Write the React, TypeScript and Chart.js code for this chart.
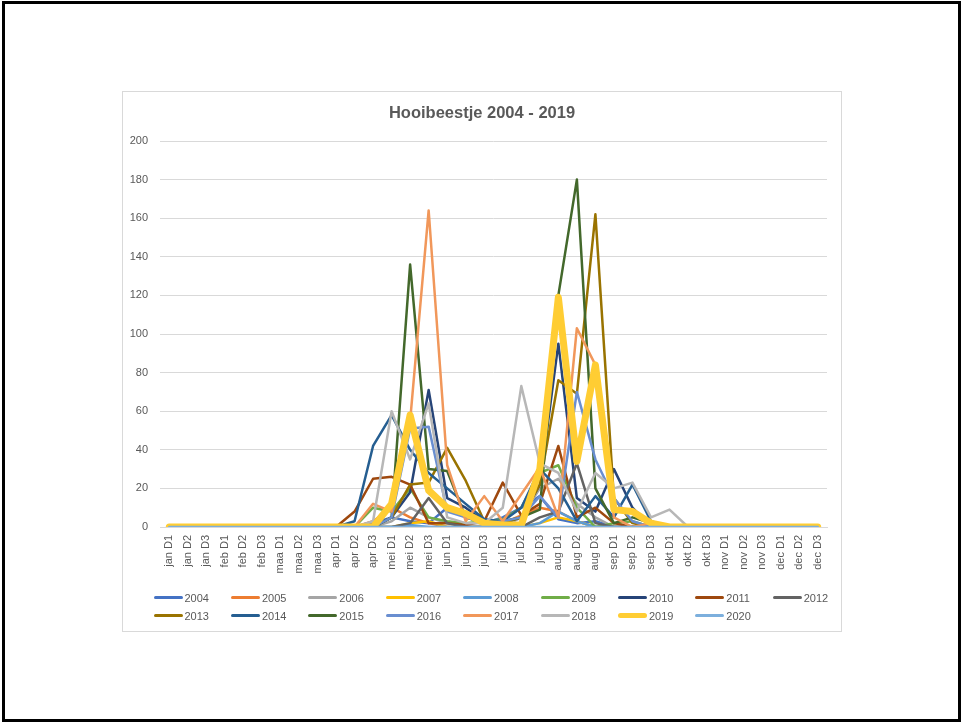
import React, { useEffect, useRef } from "react";
import { Chart, registerables } from "chart.js";

Chart.register(...registerables);

const TITLE = "Hooibeestje 2004 - 2019";

const CATEGORIES = [
  "jan D1", "jan D2", "jan D3", "feb D1", "feb D2", "feb D3",
  "maa D1", "maa D2", "maa D3", "apr D1", "apr D2", "apr D3",
  "mei D1", "mei D2", "mei D3", "jun D1", "jun D2", "jun D3",
  "jul D1", "jul D2", "jul D3", "aug D1", "aug D2", "aug D3",
  "sep D1", "sep D2", "sep D3", "okt D1", "okt D2", "okt D3",
  "nov D1", "nov D2", "nov D3", "dec D1", "dec D2", "dec D3",
];

const Y_TICKS = [0, 20, 40, 60, 80, 100, 120, 140, 160, 180, 200];

const SERIES_NAMES = [
  "2004", "2005", "2006", "2007", "2008", "2009", "2010", "2011", "2012",
  "2013", "2014", "2015", "2016", "2017", "2018", "2019", "2020",
];

const SERIES_COLORS = [
  "#4472C4", "#ED7D31", "#A5A5A5", "#FFC000", "#5B9BD5", "#70AD47",
  "#264478", "#9E480E", "#636363", "#997300", "#255E91", "#43682B",
  "#698ED0", "#F1975A", "#B7B7B7", "#FFCD33", "#7CAFDD",
];

const S2004 = [0, 0, 0, 0, 0, 0, 0, 0, 0, 0, 0, 2, 5, 3, 2, 10, 5, 2, 5, 10, 16, 4, 2, 3, 0, 0, 0, 0, 0, 0, 0, 0, 0, 0, 0, 0];
const S2005 = [0, 0, 0, 0, 0, 0, 0, 0, 0, 0, 0, 3, 10, 5, 2, 0, 0, 0, 2, 6, 10, 8, 3, 0, 0, 0, 0, 0, 0, 0, 0, 0, 0, 0, 0, 0];
const S2006 = [0, 0, 0, 0, 0, 0, 0, 0, 0, 0, 0, 0, 3, 10, 5, 2, 0, 0, 0, 5, 20, 25, 12, 5, 0, 0, 0, 0, 0, 0, 0, 0, 0, 0, 0, 0];
const S2007 = [0, 0, 0, 0, 0, 0, 0, 0, 0, 0, 0, 0, 0, 2, 3, 0, 0, 0, 0, 0, 2, 5, 3, 0, 0, 0, 0, 0, 0, 0, 0, 0, 0, 0, 0, 0];
const S2008 = [0, 0, 0, 0, 0, 0, 0, 0, 0, 0, 0, 0, 0, 1, 0, 0, 0, 0, 0, 0, 2, 8, 3, 0, 0, 0, 0, 0, 0, 0, 0, 0, 0, 0, 0, 0];
const S2009 = [0, 0, 0, 0, 0, 0, 0, 0, 0, 0, 0, 10, 8, 20, 5, 3, 2, 3, 4, 10, 28, 32, 10, 0, 2, 3, 0, 0, 0, 0, 0, 0, 0, 0, 0, 0];
const S2010 = [0, 0, 0, 0, 0, 0, 0, 0, 0, 0, 0, 0, 5, 18, 71, 15, 10, 3, 2, 5, 22, 95, 15, 8, 30, 10, 0, 0, 0, 0, 0, 0, 0, 0, 0, 0];
const S2011 = [0, 0, 0, 0, 0, 0, 0, 0, 0, 0, 8, 25, 26, 22, 2, 2, 1, 3, 23, 6, 12, 42, 5, 10, 2, 0, 0, 0, 0, 0, 0, 0, 0, 0, 0, 0];
const S2012 = [0, 0, 0, 0, 0, 0, 0, 0, 0, 0, 0, 0, 0, 2, 15, 2, 0, 0, 0, 0, 5, 8, 33, 2, 0, 0, 0, 0, 0, 0, 0, 0, 0, 0, 0, 0];
const S2013 = [0, 0, 0, 0, 0, 0, 0, 0, 0, 0, 0, 0, 5, 22, 23, 41, 24, 3, 2, 5, 22, 76, 69, 162, 15, 2, 0, 0, 0, 0, 0, 0, 0, 0, 0, 0];
const S2014 = [0, 0, 0, 0, 0, 0, 0, 0, 0, 0, 3, 42, 58, 40, 28, 20, 12, 4, 3, 10, 30, 20, 3, 16, 5, 22, 3, 0, 0, 0, 0, 0, 0, 0, 0, 0];
const S2015 = [0, 0, 0, 0, 0, 0, 0, 0, 0, 0, 0, 0, 5, 136, 30, 29, 5, 2, 3, 5, 9, 120, 180, 20, 2, 5, 2, 0, 0, 0, 0, 0, 0, 0, 0, 0];
const S2016 = [0, 0, 0, 0, 0, 0, 0, 0, 0, 0, 0, 0, 5, 51, 52, 8, 5, 2, 3, 5, 16, 5, 70, 35, 15, 3, 0, 0, 0, 0, 0, 0, 0, 0, 0, 0];
const S2017 = [0, 0, 0, 0, 0, 0, 0, 0, 0, 0, 0, 12, 8, 55, 164, 32, 3, 16, 3, 17, 31, 5, 103, 84, 5, 0, 2, 0, 0, 0, 0, 0, 0, 0, 0, 0];
const S2018 = [0, 0, 0, 0, 0, 0, 0, 0, 0, 0, 0, 3, 60, 35, 64, 5, 2, 2, 10, 73, 33, 28, 8, 28, 20, 23, 5, 9, 0, 0, 0, 0, 0, 0, 0, 0];
const S2019 = [0, 0, 0, 0, 0, 0, 0, 0, 0, 0, 0, 0, 12, 58, 19, 10, 7, 2, 1, 1, 30, 119, 34, 84, 9, 8, 2, 0, 0, 0, 0, 0, 0, 0, 0, 0];
const S2020 = [0, 0, 0, 0, 0, 0, 0, 0, 0, 0, 0, 0, 0, 0, 0, 0, 0, 0, 0, 0, 0, 0, 0, 0, 0, 0, 0, 0, 0, 0, 0, 0, 0, 0, 0, 0];

const SERIES_VALUES = [
  S2004, S2005, S2006, S2007, S2008, S2009, S2010, S2011, S2012,
  S2013, S2014, S2015, S2016, S2017, S2018, S2019, S2020,
];

const FONT = "'Liberation Sans', Arial, sans-serif";
const TEXT_COLOR = "#595959";
const GRID_COLOR = "#d9d9d9";
const THICK_SERIES = "2019";

const LEGEND_COLS = 9;

export default function App() {
  const canvasRef = useRef<HTMLCanvasElement | null>(null);

  useEffect(() => {
    const canvas = canvasRef.current;
    if (!canvas) return;
    const n = SERIES_NAMES.length;
    const datasets = SERIES_NAMES.map((name, i) => ({
      label: name,
      data: SERIES_VALUES[i],
      borderColor: SERIES_COLORS[i],
      backgroundColor: SERIES_COLORS[i],
      borderWidth: name === THICK_SERIES ? 7 : 2.5,
      pointRadius: 0,
      pointHoverRadius: 0,
      tension: 0,
      fill: false,
      clip: 0,
      order: n - 1 - i,
      yAxisID: "y",
      borderJoinStyle: "round" as const,
      borderCapStyle: "round" as const,
    }));

    const chart = new Chart(canvas, {
      type: "line",
      data: { labels: CATEGORIES, datasets },
      options: {
        responsive: false,
        animation: false,
        devicePixelRatio: 1,
        layout: { padding: { left: 0, right: 0, top: 0, bottom: 0 } },
        plugins: {
          legend: { display: false },
          tooltip: { enabled: false },
          title: {
            display: true,
            text: TITLE,
            color: TEXT_COLOR,
            font: { family: FONT, size: 16.5, weight: "bold", lineHeight: 1.2 },
            padding: { top: 12, bottom: 17.2 },
          },
        },
        scales: {
          x: {
            offset: true,
            grid: { display: false, drawTicks: false },
            border: { display: true, color: GRID_COLOR, width: 1 },
            ticks: {
              autoSkip: false,
              maxRotation: 90,
              minRotation: 90,
              padding: 8,
              color: TEXT_COLOR,
              font: { family: FONT, size: 11 },
            },
            afterFit: (s: any) => {
              s.height = 104;
            },
          },
          y: {
            min: 0,
            max: 200,
            afterBuildTicks: (s: any) => {
              s.ticks = Y_TICKS.map((v) => ({ value: v }));
            },
            ticks: {
              padding: 12,
              color: TEXT_COLOR,
              font: { family: FONT, size: 11 },
            },
            grid: { color: GRID_COLOR, drawTicks: false, lineWidth: 1 },
            border: { display: false },
            afterFit: (s: any) => {
              s.width = 37;
            },
          },
          yRight: {
            type: "linear",
            position: "right",
            display: true,
            min: 0,
            max: 200,
            grid: { display: false, drawTicks: false },
            border: { display: false },
            ticks: { display: false },
            afterFit: (s: any) => {
              s.width = 14;
            },
          },
        },
      },
    });
    return () => chart.destroy();
  }, []);

  return (
    <div style={{ position: "fixed", left: 0, top: 0, width: 961, height: 722, background: "#fff" }}>
      <div
        style={{
          position: "absolute",
          left: 2,
          top: 1,
          width: 959,
          height: 721,
          border: "3px solid #000",
          boxSizing: "border-box",
        }}
      />
      <div
        style={{
          position: "absolute",
          left: 122,
          top: 91,
          width: 720,
          height: 541,
          border: `1px solid ${GRID_COLOR}`,
          boxSizing: "border-box",
          background: "#fff",
        }}
      />
      <canvas
        ref={canvasRef}
        width={718}
        height={539}
        style={{ position: "absolute", left: 123, top: 92, width: 718, height: 539 }}
      />
      {SERIES_NAMES.map((name, i) => {
        const col = i % LEGEND_COLS;
        const row = Math.floor(i / LEGEND_COLS);
        const left = 153.5 + col * 77.4;
        const cy = 597.5 + row * 18.3;
        const thick = name === THICK_SERIES ? 5 : 3;
        return (
          <div key={name}>
            <div
              style={{
                position: "absolute",
                left,
                top: cy - thick / 2,
                width: 29,
                height: thick,
                background: SERIES_COLORS[i],
                borderRadius: thick / 2,
              }}
            />
            <div
              style={{
                position: "absolute",
                left: left + 31,
                top: cy - 7,
                height: 14,
                lineHeight: "14px",
                fontFamily: FONT,
                fontSize: 11,
                color: TEXT_COLOR,
                whiteSpace: "nowrap",
              }}
            >
              {name}
            </div>
          </div>
        );
      })}
    </div>
  );
}
